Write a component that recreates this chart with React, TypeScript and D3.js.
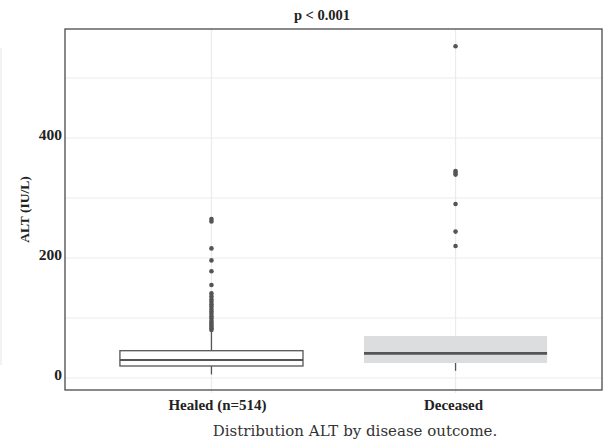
import React from 'react';
import * as d3 from 'd3';

// groups and box stats
const groups = ['Healed (n=514)', 'Deceased'];
const q1 = [20, 25];
const medians = [30, 41];
const q3 = [45.5, 70];
const whiskerLow = [6, 12];
const whiskerHigh = [77, 70];
const healedOutliers = [265, 261, 216, 196, 178, 155, 141, 136, 131, 127, 123, 119, 115, 111, 107, 103, 99, 95, 92, 89, 86, 83, 80];
const deceasedOutliers = [553, 345, 342, 339, 290, 244, 220];
const yTicks = [0, 200, 400];
const yGrid = [0, 100, 200, 300, 400, 500];

const W = 603;
const H = 441;
const margin = { top: 29, right: 1, bottom: 51, left: 65 };
const serif = '"Liberation Serif", "Times New Roman", serif';

export default function App() {
  // ggplot-like discrete expansion: 0.6 units on each side
  const x = d3
    .scaleLinear()
    .domain([0.4, groups.length + 0.6])
    .range([margin.left, W - margin.right]);
  const xc = (i: number) => x(i + 1);
  const boxW = x(1.75) - x(1);

  const y = d3.scaleLinear().domain([-20, 581.7]).range([H - margin.bottom, margin.top]);
  const outliers = [healedOutliers, deceasedOutliers];
  const fills = ['#ffffff', '#dcdddf'];
  const strokes = ['#555555', 'none'];

  const left = margin.left;
  const right = W - margin.right;
  const top = margin.top;
  const bottom = H - margin.bottom;

  return (
    <svg width={W} height={H} style={{ position: 'absolute', left: 0, top: 0, background: '#fff' }}>
      {/* faint artifact line on far left */}
      <line x1={1} x2={1} y1={48} y2={365} stroke="#e6e6e6" />
      {/* grid */}
      {yGrid.map(v => (
        <line key={v} x1={left} x2={right} y1={y(v)} y2={y(v)} stroke="#ebebeb" strokeWidth={1.2} />
      ))}
      {groups.map((g, i) => (
        <line key={g} x1={xc(i)} x2={xc(i)} y1={top} y2={bottom + 3} stroke="#ebebeb" strokeWidth={1.2} />
      ))}
      {/* boxes */}
      {groups.map((g, i) => (
        <g key={g}>
          <line x1={xc(i)} x2={xc(i)} y1={y(q3[i])} y2={y(whiskerHigh[i])} stroke="#555" strokeWidth={1.3} />
          <line x1={xc(i)} x2={xc(i)} y1={y(q1[i])} y2={y(whiskerLow[i])} stroke="#555" strokeWidth={1.3} />
          <rect
            x={xc(i) - boxW / 2}
            y={y(q3[i])}
            width={boxW}
            height={y(q1[i]) - y(q3[i])}
            fill={fills[i]}
            stroke={strokes[i]}
            strokeWidth={1.3}
          />
          <line
            x1={xc(i) - boxW / 2}
            x2={xc(i) + boxW / 2}
            y1={y(medians[i])}
            y2={y(medians[i])}
            stroke="#555"
            strokeWidth={i === 0 ? 2 : 2.6}
          />
          {outliers[i].map((v, k) => (
            <circle key={k} cx={xc(i)} cy={y(v)} r={2.3} fill="#555" />
          ))}
        </g>
      ))}
      {/* panel border */}
      <rect x={left} y={top} width={right - left} height={bottom - top} fill="none" stroke="#4a4a4a" strokeWidth={1.3} />
      {/* y tick labels */}
      {yTicks.map(v => (
        <text
          key={v}
          x={left - 3}
          y={y(v) - 4}
          textAnchor="end"
          dominantBaseline="central"
          fontFamily={serif}
          fontWeight="bold"
          fontSize={15.5}
          fill="#222"
        >
          {v}
        </text>
      ))}
      {/* x labels */}
      {groups.map((g, i) => (
        <text
          key={g}
          x={xc(i) + (i === 0 ? 6 : -2)}
          y={bottom + 20}
          textAnchor="middle"
          fontFamily={serif}
          fontWeight="bold"
          fontSize={15}
          fill="#222"
        >
          {g}
        </text>
      ))}
      <text
        transform={`translate(29,${(top + bottom) / 2}) rotate(-90)`}
        textAnchor="middle"
        fontFamily={serif}
        fontWeight="bold"
        fontSize={13.5}
        fill="#222"
      >
        ALT (IU/L)
      </text>
      <text x={322} y={20} textAnchor="middle" fontFamily={serif} fontWeight="bold" fontSize={14.5} fill="#222">
        p &lt; 0.001
      </text>
      <text x={355} y={436} textAnchor="middle" fontFamily='"DejaVu Serif", serif' fontSize={15} fill="#333">
        Distribution ALT by disease outcome.
      </text>
    </svg>
  );
}
